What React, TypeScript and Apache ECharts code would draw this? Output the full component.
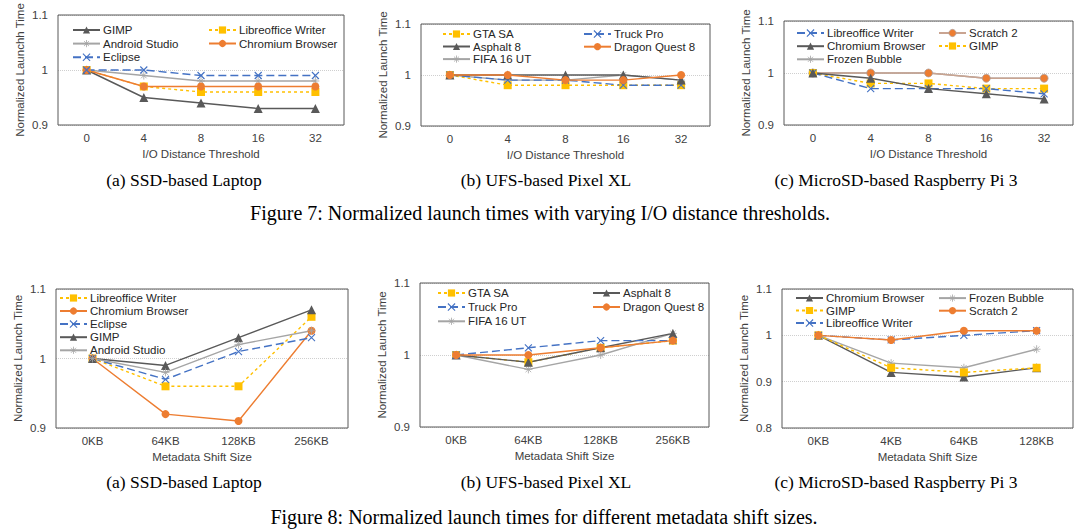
import React, { useEffect, useRef } from "react";
import * as echarts from "echarts";

// ---------- categories ----------
const ioThresholds = ["0", "4", "8", "16", "32"];
const shiftA = ["0KB", "64KB", "128KB", "256KB"];
const shiftC = ["0KB", "4KB", "64KB", "128KB"];

// ---------- Figure 7 (a) SSD-based Laptop ----------
const f7aGimp = [1, 0.95, 0.94, 0.93, 0.93];
const f7aLibre = [1, 0.97, 0.96, 0.96, 0.96];
const f7aAndroid = [1, 0.99, 0.98, 0.98, 0.98];
const f7aChromium = [1, 0.97, 0.97, 0.97, 0.97];
const f7aEclipse = [1, 1, 0.99, 0.99, 0.99];

// ---------- Figure 7 (b) UFS-based Pixel XL ----------
const f7bGta = [1, 0.98, 0.98, 0.98, 0.98];
const f7bTruck = [1, 0.99, 0.99, 0.98, 0.98];
const f7bAsphalt = [1, 1, 1, 1, 0.99];
const f7bDragon = [1, 1, 0.99, 0.99, 1];
const f7bFifa = [1, 0.99, 0.99, 1, 0.99];

// ---------- Figure 7 (c) MicroSD-based Raspberry Pi 3 ----------
const f7cLibre = [1, 0.97, 0.97, 0.97, 0.96];
const f7cScratch = [1, 1, 1, 0.99, 0.99];
const f7cChromium = [1, 0.99, 0.97, 0.96, 0.95];
const f7cGimp = [1, 0.98, 0.98, 0.97, 0.97];
const f7cFrozen = [1, 1, 1, 0.99, 0.99];

// ---------- Figure 8 (a) SSD-based Laptop ----------
const f8aLibre = [1, 0.96, 0.96, 1.06];
const f8aChromium = [1, 0.92, 0.91, 1.04];
const f8aEclipse = [1, 0.97, 1.01, 1.03];
const f8aGimp = [1, 0.99, 1.03, 1.07];
const f8aAndroid = [1, 0.98, 1.02, 1.04];

// ---------- Figure 8 (b) UFS-based Pixel XL ----------
const f8bGta = [1, 0.99, 1.01, 1.02];
const f8bTruck = [1, 1.01, 1.02, 1.02];
const f8bFifa = [1, 0.98, 1.0, 1.03];
const f8bAsphalt = [1, 0.99, 1.01, 1.03];
const f8bDragon = [1, 1, 1.01, 1.02];

// ---------- Figure 8 (c) MicroSD-based Raspberry Pi 3 ----------
const f8cChromium = [1, 0.92, 0.91, 0.93];
const f8cFrozen = [1, 0.94, 0.93, 0.97];
const f8cGimp = [1, 0.93, 0.92, 0.93];
const f8cScratch = [1, 0.99, 1.01, 1.01];
const f8cLibre = [1, 0.99, 1.0, 1.01];

// ---------- styles ----------
const C = {
  dark: "#595959",
  light: "#a5a5a5",
  orange: "#ed7d31",
  yellow: "#ffc000",
  blue: "#4472c4",
  tan: "#c9a491",
};
const X_PATH = "path://M0,0L10,10M10,0L0,10";
const STAR_PATH = "path://M0,5L10,5M5,0L5,10M1.5,1.5L8.5,8.5M8.5,1.5L1.5,8.5";

function styleFor(kind: string) {
  switch (kind) {
    case "dark":
      return {
        symbol: "triangle",
        symbolSize: 9,
        lineStyle: { color: C.dark, width: 1.4, type: "solid" },
        itemStyle: { color: C.dark, borderWidth: 0 },
      };
    case "light":
      return {
        symbol: STAR_PATH,
        symbolSize: 8,
        lineStyle: { color: C.light, width: 1.4, type: "solid" },
        itemStyle: { color: "none", borderColor: C.light, borderWidth: 0.8 },
      };
    case "orange":
      return {
        symbol: "circle",
        symbolSize: 8,
        lineStyle: { color: C.orange, width: 1.4, type: "solid" },
        itemStyle: { color: C.orange, borderWidth: 0 },
      };
    case "tan":
      return {
        symbol: "circle",
        symbolSize: 8,
        lineStyle: { color: C.tan, width: 1.4, type: "solid" },
        itemStyle: { color: C.orange, borderColor: "#b0a09a", borderWidth: 0.8 },
      };
    case "yellow":
      return {
        symbol: "rect",
        symbolSize: 8,
        lineStyle: { color: C.yellow, width: 1.4, type: [3, 3] },
        itemStyle: { color: C.yellow, borderWidth: 0 },
      };
    default:
      return {
        symbol: X_PATH,
        symbolSize: 7,
        lineStyle: { color: C.blue, width: 1.4, type: [8, 4] },
        itemStyle: { color: "none", borderColor: C.blue, borderWidth: 1.1 },
      };
  }
}

function mk(panel: string, grid: number, label: string, kind: string, data: number[]) {
  const s = styleFor(kind);
  return {
    type: "line",
    name: panel + "|" + label,
    xAxisIndex: grid,
    yAxisIndex: grid,
    data,
    symbol: s.symbol,
    symbolSize: s.symbolSize,
    showSymbol: true,
    lineStyle: s.lineStyle,
    itemStyle: s.itemStyle,
    emphasis: { disabled: true },
    z: 3,
  };
}

const panels = [
  {
    key: "7a",
    grid: { left: 58, top: 15, width: 286, height: 110 },
    cats: ioThresholds,
    yMin: 0.9,
    yMax: 1.1,
    yName: "Normalized Launchh Time",
    xName: "I/O Distance Threshold",
    series: [
      ["Android Studio", "light", f7aAndroid],
      ["Libreoffice Writer", "yellow", f7aLibre],
      ["GIMP", "dark", f7aGimp],
      ["Chromium Browser", "orange", f7aChromium],
      ["Eclipse", "blue", f7aEclipse],
    ],
    legends: [
      { left: 72, top: 24, gap: 1.5, items: ["GIMP", "Android Studio", "Eclipse"] },
      { left: 208, top: 24, gap: 1.5, items: ["Libreoffice Writer", "Chromium Browser"] },
    ],
  },
  {
    key: "7b",
    grid: { left: 421, top: 24, width: 289, height: 102 },
    cats: ioThresholds,
    yMin: 0.9,
    yMax: 1.1,
    yName: "Normalized Launch Time",
    xName: "I/O Distance Threshold",
    series: [
      ["FIFA 16 UT", "light", f7bFifa],
      ["GTA SA", "yellow", f7bGta],
      ["Truck Pro", "blue", f7bTruck],
      ["Asphalt 8", "dark", f7bAsphalt],
      ["Dragon Quest 8", "orange", f7bDragon],
    ],
    legends: [
      { left: 442, top: 28, gap: 0.5, items: ["GTA SA", "Asphalt 8", "FIFA 16 UT"] },
      { left: 583, top: 28, gap: 0.5, items: ["Truck Pro", "Dragon Quest 8"] },
    ],
  },
  {
    key: "7c",
    grid: { left: 784, top: 21, width: 289, height: 104 },
    cats: ioThresholds,
    yMin: 0.9,
    yMax: 1.1,
    yName: "Normalized Launch Time",
    xName: "I/O Distance Threshold",
    series: [
      ["Frozen Bubble", "light", f7cFrozen],
      ["Scratch 2", "tan", f7cScratch],
      ["GIMP", "yellow", f7cGimp],
      ["Libreoffice Writer", "blue", f7cLibre],
      ["Chromium Browser", "dark", f7cChromium],
    ],
    legends: [
      { left: 796, top: 27, gap: 1, items: ["Libreoffice Writer", "Chromium Browser", "Frozen Bubble"] },
      { left: 938, top: 27, gap: 1, items: ["Scratch 2", "GIMP"] },
    ],
  },
  {
    key: "8a",
    grid: { left: 56, top: 289, width: 292, height: 139 },
    cats: shiftA,
    yMin: 0.9,
    yMax: 1.1,
    yName: "Normalized Launch Time",
    xName: "Metadata Shift Size",
    series: [
      ["Libreoffice Writer", "yellow", f8aLibre],
      ["Chromium Browser", "orange", f8aChromium],
      ["Eclipse", "blue", f8aEclipse],
      ["GIMP", "dark", f8aGimp],
      ["Android Studio", "light", f8aAndroid],
    ],
    legends: [
      {
        left: 59,
        top: 292,
        gap: 1,
        items: ["Libreoffice Writer", "Chromium Browser", "Eclipse", "GIMP", "Android Studio"],
      },
    ],
  },
  {
    key: "8b",
    grid: { left: 420, top: 283, width: 289, height: 144 },
    cats: shiftA,
    yMin: 0.9,
    yMax: 1.1,
    yName: "Normalized Launch Time",
    xName: "Metadata Shift Size",
    series: [
      ["GTA SA", "yellow", f8bGta],
      ["FIFA 16 UT", "light", f8bFifa],
      ["Asphalt 8", "dark", f8bAsphalt],
      ["Truck Pro", "blue", f8bTruck],
      ["Dragon Quest 8", "orange", f8bDragon],
    ],
    legends: [
      { left: 437, top: 287, gap: 2, items: ["GTA SA", "Truck Pro", "FIFA 16 UT"] },
      { left: 592, top: 287, gap: 2, items: ["Asphalt 8", "Dragon Quest 8"] },
    ],
  },
  {
    key: "8c",
    grid: { left: 782, top: 289, width: 291, height: 139 },
    cats: shiftC,
    yMin: 0.8,
    yMax: 1.1,
    yName: "Normalized Launch Time",
    xName: "Metadata Shift Size",
    series: [
      ["Chromium Browser", "dark", f8cChromium],
      ["Frozen Bubble", "light", f8cFrozen],
      ["GIMP", "yellow", f8cGimp],
      ["Libreoffice Writer", "blue", f8cLibre],
      ["Scratch 2", "orange", f8cScratch],
    ],
    legends: [
      { left: 795, top: 292, gap: 0.5, items: ["Chromium Browser", "GIMP", "Libreoffice Writer"] },
      { left: 938, top: 292, gap: 0.5, items: ["Frozen Bubble", "Scratch 2"] },
    ],
  },
];

const subCaptions = [
  { text: "(a) SSD-based Laptop", x: 184, y: 180 },
  { text: "(b) UFS-based Pixel XL", x: 546, y: 180 },
  { text: "(c) MicroSD-based Raspberry Pi 3", x: 896, y: 180 },
  { text: "(a) SSD-based Laptop", x: 184, y: 482 },
  { text: "(b) UFS-based Pixel XL", x: 546, y: 482 },
  { text: "(c) MicroSD-based Raspberry Pi 3", x: 896, y: 482 },
];
const figCaptions = [
  { text: "Figure 7: Normalized launch times with varying I/O distance thresholds.", x: 540, y: 213 },
  { text: "Figure 8: Normalized launch times for different metadata shift sizes.", x: 544, y: 517 },
];

const SANS = "Liberation Sans";
const TXT = "#404040";

function buildOption() {
  const grids: any[] = [];
  const xAxes: any[] = [];
  const yAxes: any[] = [];
  const series: any[] = [];
  const legends: any[] = [];

  panels.forEach((p, i) => {
    grids.push({
      ...p.grid,
      show: true,
      borderColor: "#595959",
      borderWidth: 1,
      backgroundColor: "transparent",
      z: 5,
    });
    xAxes.push({
      type: "category",
      gridIndex: i,
      data: p.cats,
      boundaryGap: true,
      axisLine: { show: false },
      axisTick: { show: false },
      axisLabel: { fontSize: 11.5, color: TXT, fontFamily: SANS, margin: 7 },
      name: p.xName,
      nameLocation: "middle",
      nameGap: 23,
      nameTextStyle: { fontSize: 11.5, color: TXT, fontFamily: SANS },
      splitLine: { show: false },
    });
    yAxes.push({
      type: "value",
      gridIndex: i,
      min: p.yMin,
      max: p.yMax,
      interval: 0.1,
      axisLine: { show: false },
      axisTick: { show: false },
      axisLabel: {
        fontSize: 11.5,
        color: TXT,
        fontFamily: SANS,
        margin: 10,
        formatter: (v: number) => String(+v.toFixed(1)),
      },
      splitLine: { show: true, lineStyle: { color: "#cfcfcf", type: "dotted", width: 1 } },
      name: p.yName,
      nameLocation: "middle",
      nameGap: 32,
      nameTextStyle: { fontSize: 11.5, color: TXT, fontFamily: SANS },
    });
    const kindOf: Record<string, string> = {};
    p.series.forEach((s: any) => {
      kindOf[s[0]] = s[1];
      series.push(mk(p.key, i, s[0], s[1], s[2]));
    });
    p.legends.forEach((lg) => {
      legends.push({
        orient: "vertical",
        left: lg.left,
        top: lg.top,
        padding: 0,
        itemGap: lg.gap,
        itemWidth: 27,
        itemHeight: 9,
        selectedMode: false,
        data: lg.items.map((n) => {
          const st = styleFor(kindOf[n]);
          return {
            name: p.key + "|" + n,
            itemStyle: { borderWidth: (st.itemStyle as any).borderWidth || 0 },
          };
        }),
        formatter: (name: string) => name.split("|")[1],
        textStyle: { fontSize: 11.5, color: "#262626", fontFamily: SANS, lineHeight: 11, padding: [0, 0, 0, -2] },
      });
    });
  });

  const graphics: any[] = [];
  subCaptions.forEach((c) =>
    graphics.push({
      type: "text",
      x: c.x,
      y: c.y,
      style: {
        text: c.text,
        fill: "#000",
        fontSize: 17.5,
        fontFamily: "Liberation Serif",
        align: "center",
        verticalAlign: "middle",
      },
    })
  );
  figCaptions.forEach((c) =>
    graphics.push({
      type: "text",
      x: c.x,
      y: c.y,
      style: {
        text: c.text,
        fill: "#000",
        fontSize: 20,
        fontFamily: "Liberation Serif",
        align: "center",
        verticalAlign: "middle",
      },
    })
  );

  return {
    animation: false,
    backgroundColor: "#ffffff",
    grid: grids,
    xAxis: xAxes,
    yAxis: yAxes,
    legend: legends,
    series,
    graphic: graphics,
  };
}

export default function App() {
  const ref = useRef<HTMLDivElement | null>(null);
  useEffect(() => {
    if (!ref.current) return;
    const chart = echarts.init(ref.current, null, { renderer: "svg" });
    chart.setOption(buildOption() as any);
    return () => chart.dispose();
  }, []);
  return (
    <div
      ref={ref}
      style={{ position: "fixed", left: 0, top: 0, width: 1080, height: 529, background: "#fff" }}
    />
  );
}
